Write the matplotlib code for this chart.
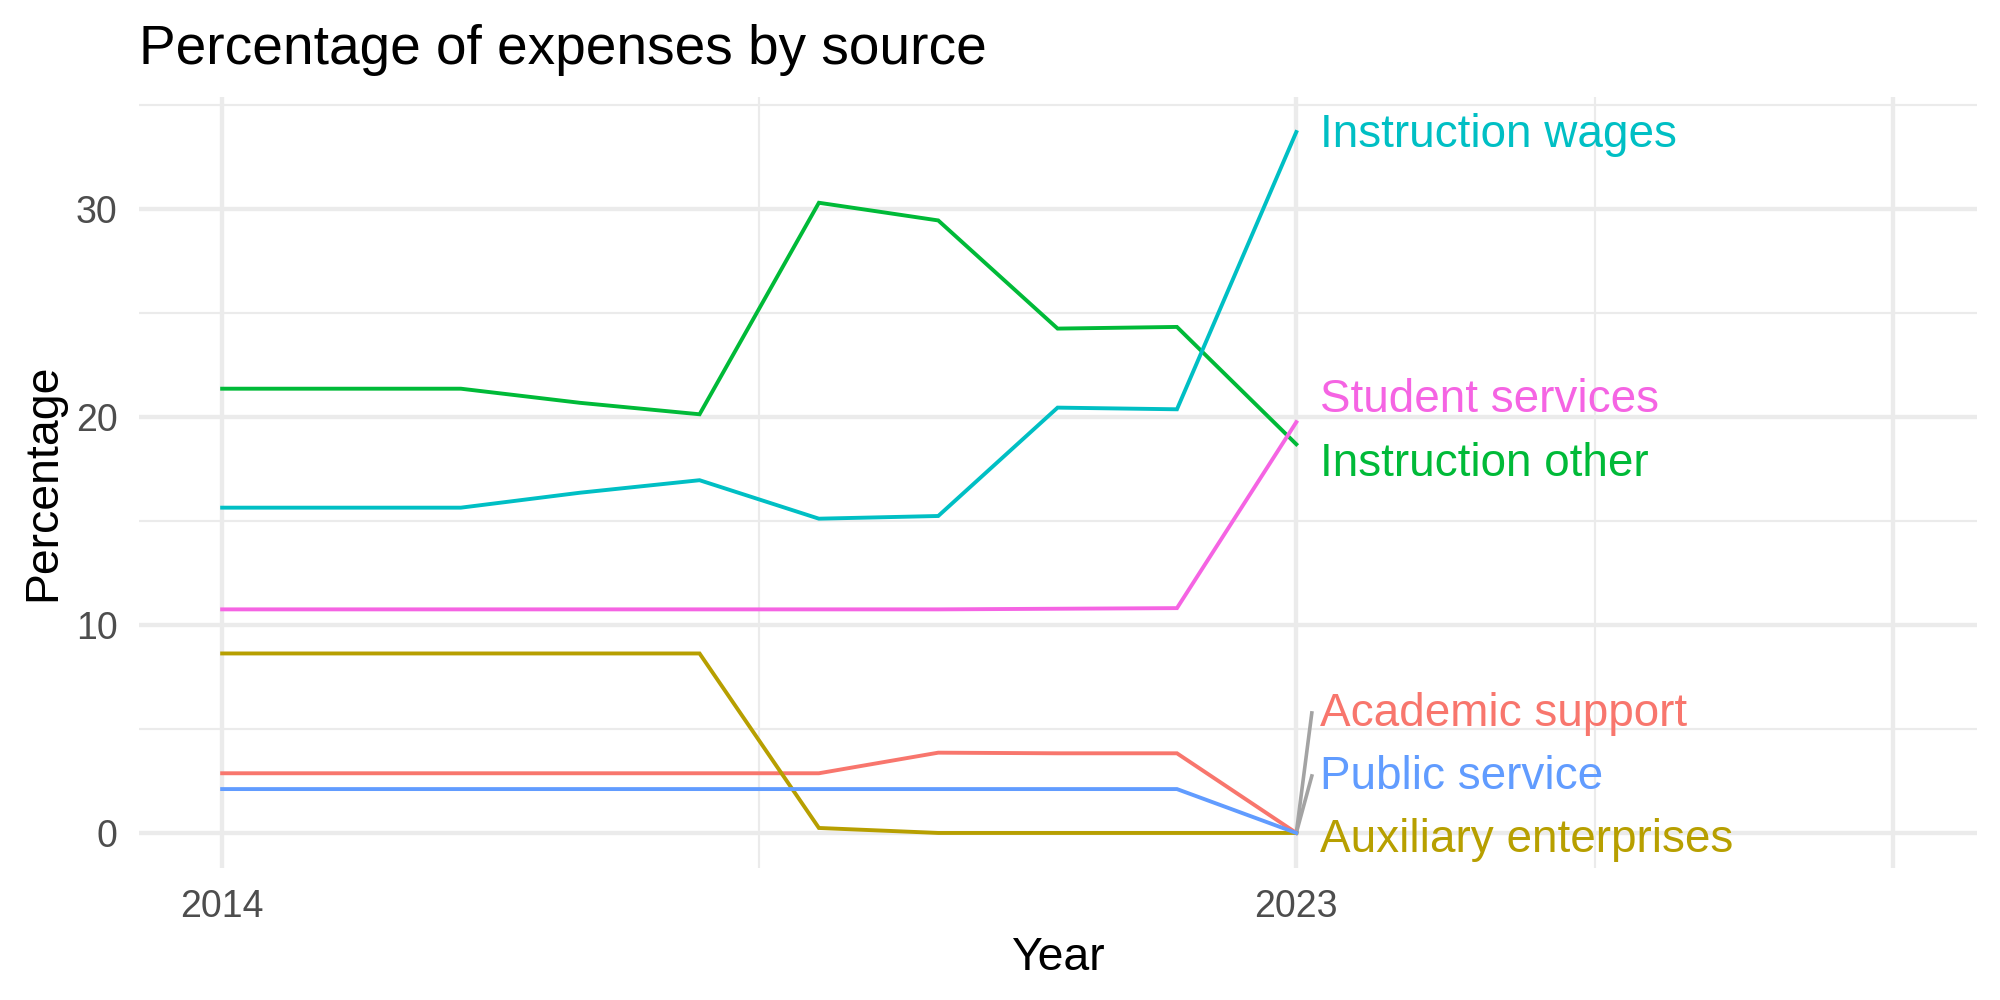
import matplotlib
matplotlib.use("Agg")
import matplotlib.pyplot as plt
import numpy as np

plt.rcParams['font.family'] = ['Liberation Sans', 'DejaVu Sans']

# Data
years = [2014, 2016, 2017, 2018, 2019, 2020, 2021, 2022, 2023]
academic_support = [2.87, 2.87, 2.87, 2.87, 2.87, 3.86, 3.83, 3.83, 0.0]
auxiliary_enterprises = [8.63, 8.63, 8.63, 8.63, 0.24, 0.0, 0.0, 0.0, 0.0]
instruction_other = [21.36, 21.36, 20.68, 20.13, 30.3, 29.45, 24.25, 24.33, 18.69]
instruction_wages = [15.64, 15.64, 16.36, 16.96, 15.11, 15.24, 20.45, 20.37, 33.7]
public_service = [2.11, 2.11, 2.11, 2.11, 2.11, 2.11, 2.11, 2.11, 0.0]
student_services = [10.75, 10.75, 10.75, 10.75, 10.75, 10.75, 10.78, 10.81, 19.75]

series_names = ['Academic support', 'Auxiliary enterprises', 'Instruction other',
                'Instruction wages', 'Public service', 'Student services']
series_values = [academic_support, auxiliary_enterprises, instruction_other,
                 instruction_wages, public_service, student_services]
colors = ['#F8766D', '#B79F00', '#00BA38', '#00BFC4', '#619CFF', '#F564E3']

# where the repelled labels ended up (y, data units)
label_y = [5.87, -0.2, 17.9, 33.7, 2.84, 20.96]

fig = plt.figure(figsize=(10, 5), dpi=200)
ax = fig.add_axes([0.0693, 0.132, 0.9883 - 0.0693, 0.903 - 0.132])

for name, vals, col in zip(series_names, series_values, colors):
    ax.plot(years, vals, color=col, linewidth=1.4, solid_joinstyle='miter', zorder=3)

# labels at the end of each line, with gray segments where the label moved far
last_x = years[-1]
lab_x = last_x + 0.2
for name, vals, col, ly in zip(series_names, series_values, colors, label_y):
    ax.text(lab_x, ly - 0.15, name, color=col, fontsize=16.5, ha='left', va='center', zorder=4)
    if abs(ly - vals[-1]) > 2:
        ax.plot([last_x, lab_x - 0.07], [vals[-1], ly - 0.1], color='#A3A3A3',
                linewidth=1.3, zorder=2)

# axes
ax.set_xlim(2013.3, 2028.7)
ax.set_ylim(-1.685, 35.385)
ax.set_xticks([2014, 2023, 2028])
ax.set_xticklabels(['2014', '2023', ''])
ax.set_xticks([2018.5, 2025.5], minor=True)
ax.set_yticks([0, 10, 20, 30])
ax.set_yticks([5, 15, 25, 35], minor=True)

ax.grid(True, which='major', color='#EBEBEB', linewidth=1.55)
ax.grid(True, which='minor', color='#EBEBEB', linewidth=0.78)
ax.set_axisbelow(True)
for s in ax.spines.values():
    s.set_visible(False)
ax.tick_params(which='both', length=0, pad=7.5, labelsize=13.5, labelcolor='#4D4D4D')

ax.set_xlabel('Year', fontsize=16.7, labelpad=4)
ax.set_ylabel('Percentage', fontsize=16.7, labelpad=4)
ax.set_title('Percentage of expenses by source', loc='left', fontsize=19.8, pad=12)

fig.savefig('out.png', dpi=200)
